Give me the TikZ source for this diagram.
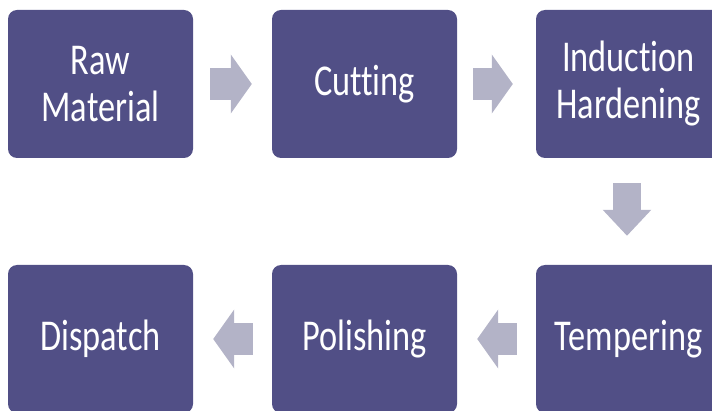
\documentclass[tikz,border=0pt]{standalone}
\usepackage{fontspec}
\setmainfont{Carlito}[FakeStretch=0.78, Ligatures=NoCommon]
\usetikzlibrary{arrows.meta}
\definecolor{boxpurple}{HTML}{514F86}
\definecolor{arrowgrey}{HTML}{B3B3C7}
\tikzset{
  stage/.style={fill=boxpurple, rounded corners=9pt, minimum width=185pt, minimum height=148pt,
    text=white, align=center, font=\fontsize{44}{47}\selectfont},
  flowh/.style={arrowgrey, line width=32pt, -{Triangle[width=58pt, length=21pt]}},
  flowv/.style={arrowgrey, line width=28pt, -{Triangle[width=47pt, length=26pt]}}
}
\begin{document}
\begin{tikzpicture}[x=1pt, y=1pt]
  \useasboundingbox (0, 0) rectangle (712, 410);
  \clip (0, 0) rectangle (712, 410);
  % top row
  \node[stage] (raw) at (100.5, 326) {Raw\\Material};
  \node[stage] (cut) at (364.5, 326) {Cutting};
  \node[stage] (ind) at (628.5, 326) {Induction\\Hardening};
  % bottom row
  \node[stage] (disp) at (100.5, 71) {Dispatch};
  \node[stage] (pol) at (364.5, 71) {Polishing};
  \node[stage] (temp) at (628.5, 71) {Tempering};
  % arrows
  \draw[flowh] ([xshift=17pt]raw.east) -- ([xshift=-20pt]cut.west);
  \draw[flowh] ([xshift=16pt]cut.east) -- ([xshift=-23pt]ind.west);
  \draw[flowv] ([xshift=-1.5pt, yshift=-25pt]ind.south) -- ([xshift=-1.5pt, yshift=29pt]temp.north);
  \draw[flowh] ([xshift=-19pt]temp.west) -- ([xshift=20pt]pol.east);
  \draw[flowh] ([xshift=-19pt]pol.west) -- ([xshift=20pt]disp.east);
\end{tikzpicture}
\end{document}
